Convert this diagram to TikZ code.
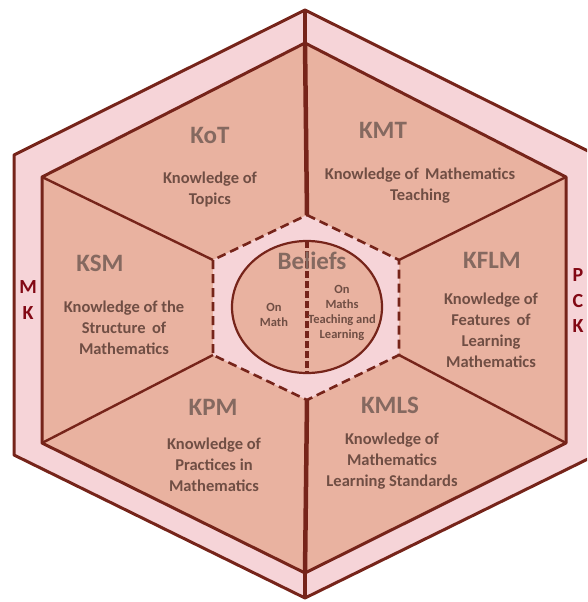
\documentclass[tikz,border=0pt]{standalone}
\usepackage{fontspec}
\setmainfont{Carlito}
\definecolor{salmon}{RGB}{233,178,160}
\definecolor{blush}{RGB}{246,212,216}
\definecolor{rim}{RGB}{118,36,26}
\definecolor{ink}{RGB}{112,78,68}
\definecolor{mkred}{RGB}{130,8,20}

\begin{document}
\begin{tikzpicture}[x=1pt, y=-1pt,
	edge/.style={draw=rim, line width=3pt, line join=round},
	spoke/.style={draw=rim, line width=2.4pt},
	seam/.style={draw=rim, line width=4.5pt},
	title/.style={text=ink!85!white, font=\bfseries\fontsize{25}{28}\selectfont},
	body/.style={text=ink, align=center, font=\bfseries\fontsize{16.5}{21}\selectfont},
	small/.style={text=ink, align=center, font=\bfseries\fontsize{12.5}{15}\selectfont},
	band/.style={text=mkred, align=center, font=\bfseries\fontsize{20}{25.5}\selectfont}]
	\useasboundingbox (0,0) rectangle (587,602);
	\clip (0,0) rectangle (587,602);

	\coordinate (o1) at (305,10);
	\coordinate (o2) at (596,155);
	\coordinate (o3) at (596,455);
	\coordinate (o4) at (305,598);
	\coordinate (o5) at (14,455);
	\coordinate (o6) at (14,155);
	\coordinate (i1) at (305,43);
	\coordinate (i2) at (566,177);
	\coordinate (i3) at (566,443);
	\coordinate (i4) at (305,573);
	\coordinate (i5) at (42,443);
	\coordinate (i6) at (42,177);
	\coordinate (s1) at (307,215);
	\coordinate (s2) at (399,260);
	\coordinate (s3) at (399,355);
	\coordinate (s4) at (307,400);
	\coordinate (s5) at (213,355);
	\coordinate (s6) at (213,260);
	\coordinate (b1) at (307,241);
	\coordinate (b2) at (307,373);

	\draw[edge, fill=blush] (o1) -- (o2) -- (o3) -- (o4) -- (o5) -- (o6) -- cycle;
	\draw[edge, fill=salmon] (i1) -- (i2) -- (i3) -- (i4) -- (i5) -- (i6) -- cycle;
	\draw[seam] (o1) -- (i1);
	\draw[seam] (o4) -- (i4);
	\draw[seam] (i1) -- (s1);
	\draw[seam] (i4) -- (s4);
	\draw[spoke] (i2) -- (s2);
	\draw[spoke] (i3) -- (s3);
	\draw[spoke] (i5) -- (s5);
	\draw[spoke] (i6) -- (s6);
	\draw[draw=rim, fill=blush, line width=2.6pt, dash pattern=on 9pt off 5pt]
		(s1) -- (s2) -- (s3) -- (s4) -- (s5) -- (s6) -- cycle;
	\draw[draw=rim, fill=salmon, line width=2.2pt] (307,307) ellipse (75pt and 66pt);
	\draw[rim, line width=4pt, dash pattern=on 7pt off 3pt] (b1) -- (b2);

	\node[title] (kot) at (210,135) {KoT};
	\node[body] (kotdesc) at (210,190) {Knowledge of\\Topics};
	\node[title] (kmt) at (383,130) {KMT};
	\node[body] (kmtdesc) at (420,186) {Knowledge of \,Mathematics\\Teaching};
	\node[title] (ksm) at (100,263) {KSM};
	\node[body] (ksmdesc) at (124,328) {Knowledge of the\\Structure \,of\\Mathematics};
	\node[title] (kflm) at (492,260) {KFLM};
	\node[body] (kflmdesc) at (491,330) {Knowledge of\\Features \,of\\Learning\\Mathematics};
	\node[title] (kpm) at (213,407) {KPM};
	\node[body] (kpmdesc) at (214,465) {Knowledge of\\Practices in\\Mathematics};
	\node[title] (kmls) at (390,405) {KMLS};
	\node[body] (kmlsdesc) at (392,461) {Knowledge of\\Mathematics\\Learning Standards};

	\node[title] (beliefs) at (312,261) {Beliefs};
	\node[small] (onmath) at (274,315) {On\\Math};
	\node[small] (onteach) at (342,313) {On\\Maths\\Teaching and\\Learning};

	\node[band] (mk) at (28,300) {M\\K};
	\node[band] (pck) at (578,301) {P\\C\\K};
\end{tikzpicture}
\end{document}
